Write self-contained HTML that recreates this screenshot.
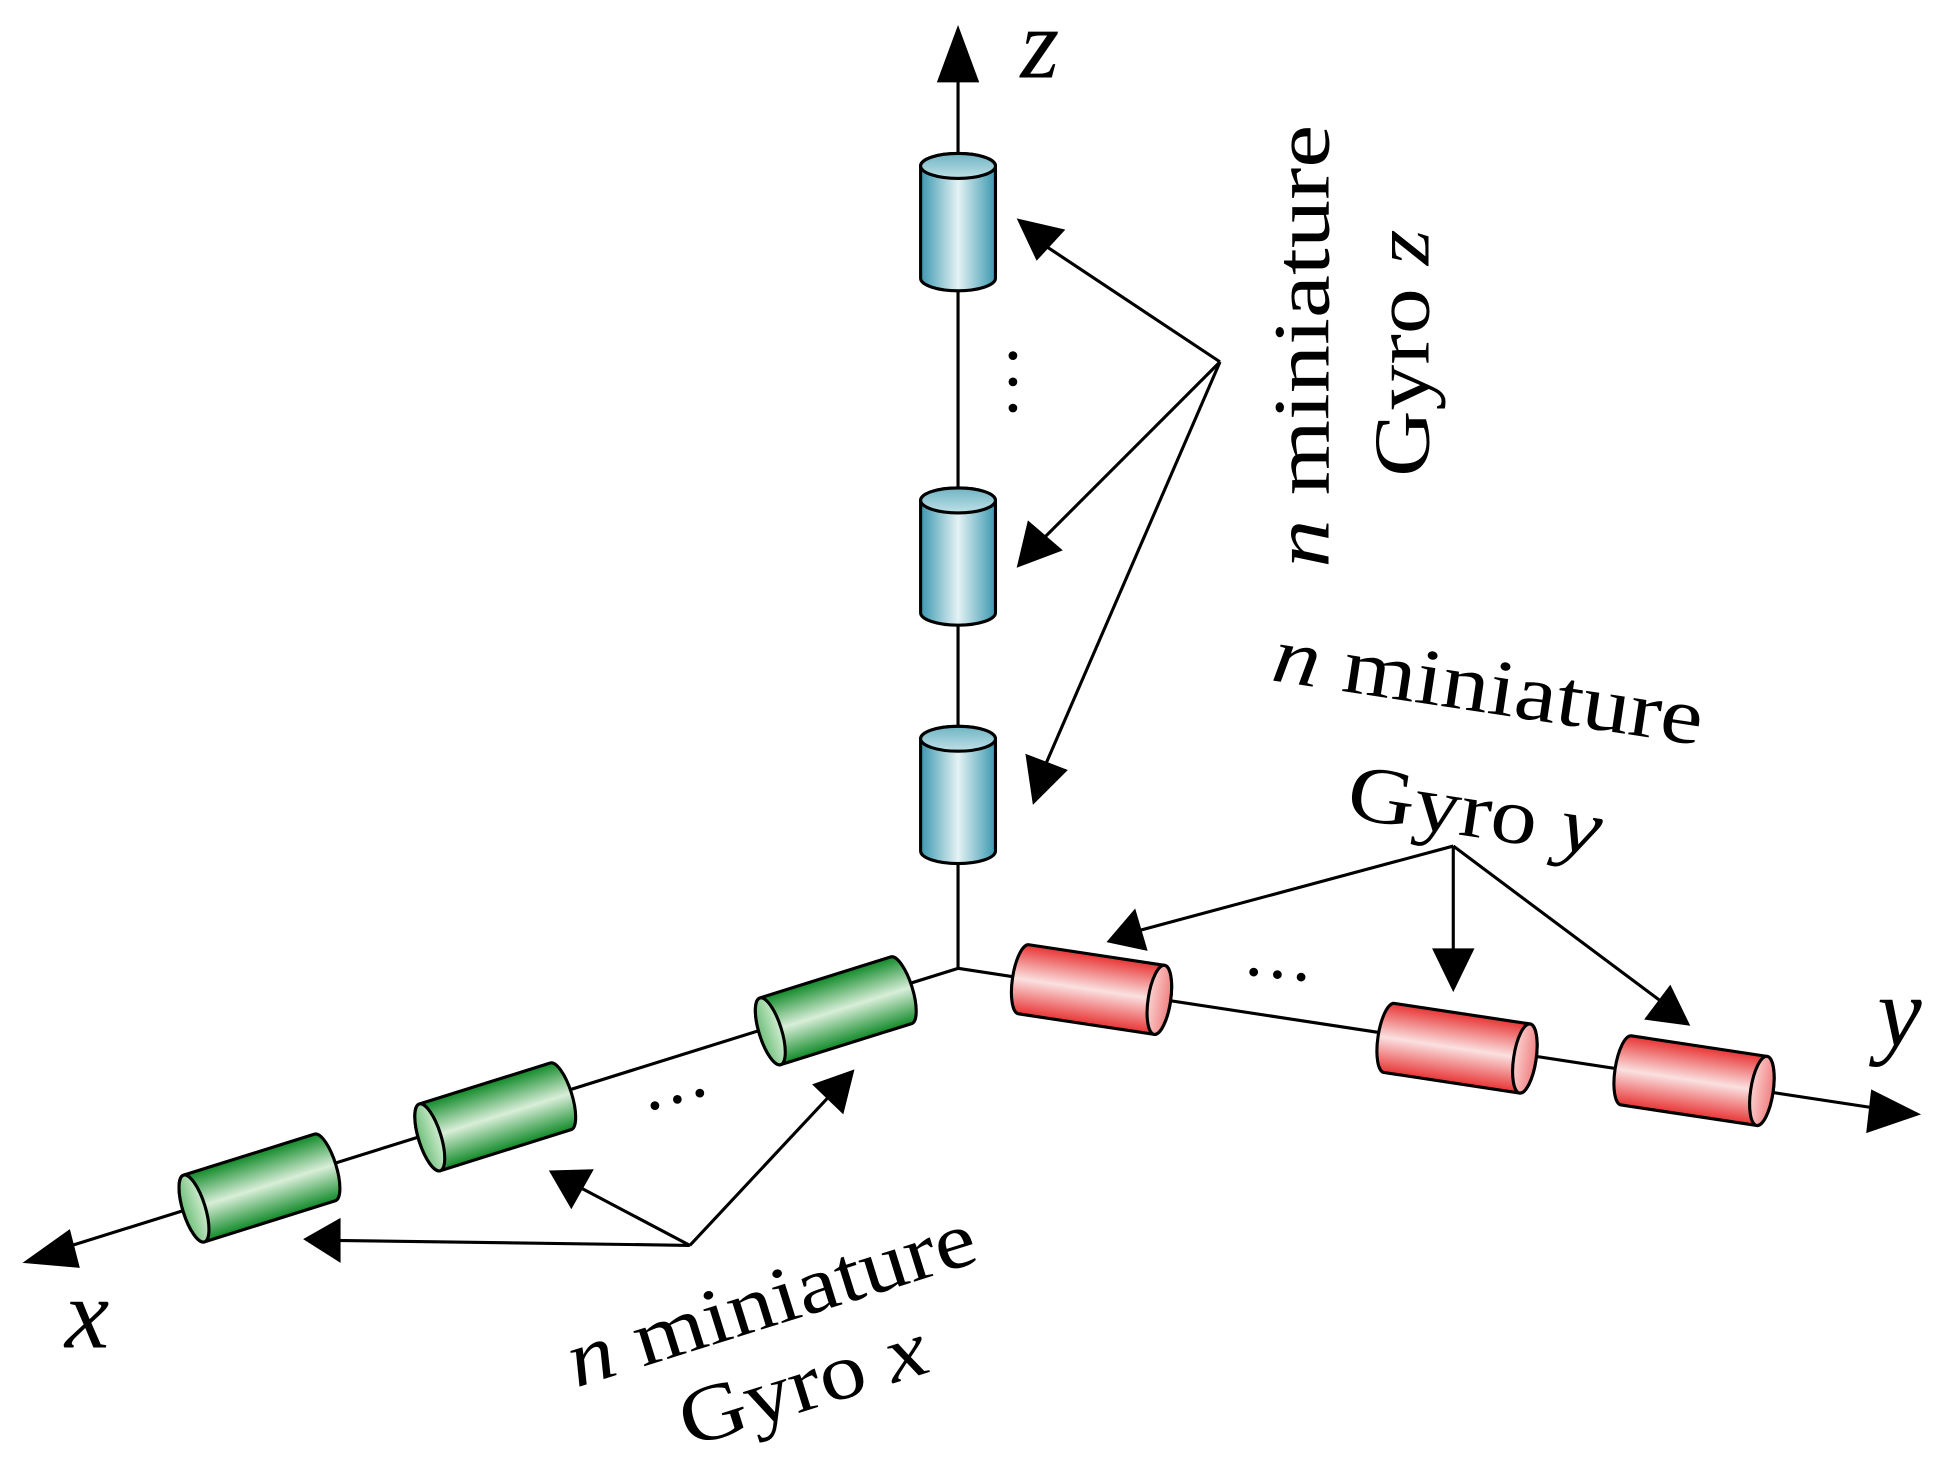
<!DOCTYPE html>
<html><head><meta charset="utf-8"><style>
html,body{margin:0;padding:0;background:#fff;}
svg{display:block;}
text{font-family:"Liberation Serif",serif;fill:#000;}
</style></head><body>
<svg width="1956" height="1470" viewBox="0 0 1568 1178" preserveAspectRatio="none" xmlns="http://www.w3.org/2000/svg">
<defs>
<linearGradient id="gb" x1="0" y1="0" x2="0" y2="1"><stop offset="0" stop-color="#3a98b0"/><stop offset="0.5" stop-color="#e4f2f4"/><stop offset="1" stop-color="#3a98b0"/></linearGradient>
<linearGradient id="gg" x1="0" y1="0" x2="0" y2="1"><stop offset="0" stop-color="#108a28"/><stop offset="0.5" stop-color="#d8eed8"/><stop offset="1" stop-color="#108a28"/></linearGradient>
<linearGradient id="gr" x1="0" y1="0" x2="0" y2="1"><stop offset="0" stop-color="#e83434"/><stop offset="0.5" stop-color="#fbe0e0"/><stop offset="1" stop-color="#e83434"/></linearGradient>
<linearGradient id="gbe" x1="0" y1="0" x2="1" y2="0"><stop offset="0" stop-color="#bfe0e6"/><stop offset="1" stop-color="#6fb4c4"/></linearGradient>
<linearGradient id="gge" x1="0" y1="0" x2="1" y2="0"><stop offset="0" stop-color="#cfeccf"/><stop offset="1" stop-color="#6fbf7a"/></linearGradient>
<linearGradient id="gre" x1="0" y1="0" x2="1" y2="0"><stop offset="0" stop-color="#fbd0d0"/><stop offset="1" stop-color="#f08080"/></linearGradient>
<g id="cylB"><path d="M-45,-30 L45,-30 A10,30 0 0 1 45,30 L-45,30 A10,30 0 0 1 -45,-30Z" fill="url(#gb)" stroke="#000" stroke-width="2.5"/><ellipse cx="45" cy="0" rx="10" ry="30" fill="url(#gbe)" stroke="#000" stroke-width="2.5"/></g>
<g id="cylG"><path d="M-55,-28 L55,-28 A9,28 0 0 1 55,28 L-55,28 A9,28 0 0 1 -55,-28Z" fill="url(#gg)" stroke="#000" stroke-width="2.5"/><ellipse cx="55" cy="0" rx="9" ry="28" fill="url(#gge)" stroke="#000" stroke-width="2.5"/></g>
<g id="cylR"><path d="M-55,-28 L55,-28 A9,28 0 0 1 55,28 L-55,28 A9,28 0 0 1 -55,-28Z" fill="url(#gr)" stroke="#000" stroke-width="2.5"/><ellipse cx="55" cy="0" rx="9" ry="28" fill="url(#gre)" stroke="#000" stroke-width="2.5"/></g>
</defs>
<g stroke="#000" stroke-width="2.5" fill="none">
<line x1="768" y1="776" x2="768" y2="50"/>
<line x1="768" y1="776" x2="45" y2="1002"/>
<line x1="768" y1="776" x2="1510" y2="889"/>
</g>
<polygon points="768,20 751,66 785,66" fill="#000"/>
<polygon points="18,1012 56,985 64,1016" fill="#000"/>
<polygon points="1540,893 1500,873 1496,908" fill="#000"/>
<use href="#cylB" transform="translate(768,178) rotate(-90)"/>
<use href="#cylB" transform="translate(768,446) rotate(-90)"/>
<use href="#cylB" transform="translate(768,637) rotate(-90)"/>
<use href="#cylG" transform="translate(670,810) rotate(162.6)"/>
<use href="#cylG" transform="translate(397,895) rotate(162.6)"/>
<use href="#cylG" transform="translate(208,952) rotate(162.6)"/>
<use href="#cylR" transform="translate(875,793) rotate(8.6)"/>
<use href="#cylR" transform="translate(1168,840) rotate(8.6)"/>
<use href="#cylR" transform="translate(1358,866) rotate(8.6)"/>
<g fill="#000">
<circle cx="812" cy="285" r="3.5"/><circle cx="812" cy="306" r="3.5"/><circle cx="812" cy="327" r="3.5"/>
<circle cx="525" cy="886" r="3.5"/><circle cx="543" cy="881" r="3.5"/><circle cx="561" cy="876" r="3.5"/>
<circle cx="1005" cy="779" r="3.5"/><circle cx="1024" cy="781" r="3.5"/><circle cx="1043" cy="783" r="3.5"/>
</g>
<g stroke="#000" stroke-width="2.5">
<line x1="978" y1="290" x2="832" y2="193"/>
<line x1="978" y1="290" x2="830" y2="438"/>
<line x1="978" y1="290" x2="835" y2="620"/>
<line x1="553" y1="998" x2="268" y2="994"/>
<line x1="553" y1="998" x2="462" y2="950"/>
<line x1="553" y1="998" x2="668" y2="875"/>
<line x1="1165" y1="678" x2="912" y2="746"/>
<line x1="1165" y1="678" x2="1165" y2="768"/>
<line x1="1165" y1="678" x2="1335" y2="805"/>
</g>
<g fill="#000">
<polygon points="815,175 854,184 831,209"/>
<polygon points="815,455 824,417 852,441"/>
<polygon points="828,645 822,604 856,617"/>
<polygon points="243,993 273,976 273,1012"/>
<polygon points="440,938 476,937 458,969"/>
<polygon points="685,857 676,893 651,869"/>
<polygon points="887,755 910,728 920,762"/>
<polygon points="1165,795 1148,760 1182,760"/>
<polygon points="1355,822 1318,817 1339,789"/>
</g>
<g font-style="italic" font-size="80">
<text x="818" y="62">z</text>
<text x="52" y="1080">x</text>
<text x="1505" y="838">y</text>
</g>
<g font-size="64">
<text transform="translate(1065,455) rotate(-90)" textLength="355" lengthAdjust="spacingAndGlyphs"><tspan font-style="italic">n</tspan> miniature</text>
<text transform="translate(1145,382) rotate(-90)" textLength="198" lengthAdjust="spacingAndGlyphs">Gyro <tspan font-style="italic">z</tspan></text>
<text transform="translate(1018,545) rotate(8.6)" textLength="348" lengthAdjust="spacingAndGlyphs"><tspan font-style="italic">n</tspan> miniature</text>
<text transform="translate(1078,655) rotate(8.6)" textLength="205" lengthAdjust="spacingAndGlyphs">Gyro <tspan font-style="italic">y</tspan></text>
<text transform="translate(462,1112) rotate(-17.4)" textLength="340" lengthAdjust="spacingAndGlyphs"><tspan font-style="italic">n</tspan> miniature</text>
<text transform="translate(552,1160) rotate(-17.4)" textLength="205" lengthAdjust="spacingAndGlyphs">Gyro <tspan font-style="italic">x</tspan></text>
</g>
</svg>
</body></html>
